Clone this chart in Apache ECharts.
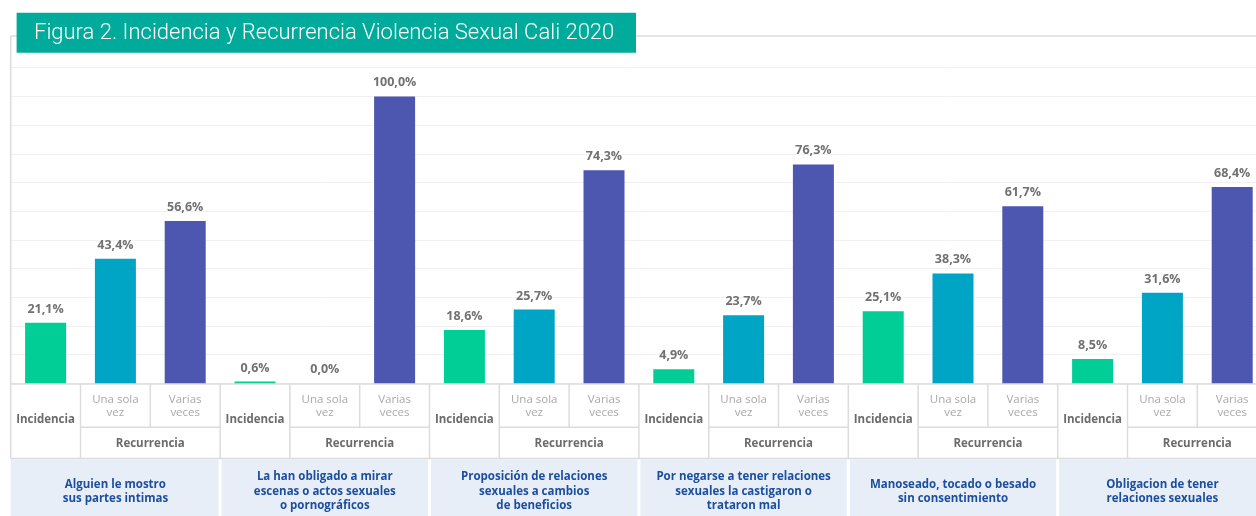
<!DOCTYPE html>
<html>
<head>
<meta charset="utf-8">
<script src="https://cdn.jsdelivr.net/npm/echarts@6/dist/echarts.min.js"></script>
<style>
  html, body { margin: 0; padding: 0; background: #fff; }
  #chart { width: 1256px; height: 516px; }
</style>
</head>
<body>
<div id="chart"></div>
<script>
  const titulo = 'Figura 2. Incidencia y Recurrencia Violencia Sexual Cali 2020';
  const columnas = ['Incidencia', 'Una sola\nvez', 'Varias\nveces'];
  const grupos = [
    'Alguien le mostro\nsus partes intimas',
    'La han obligado a mirar\nescenas o actos sexuales\no pornográficos',
    'Proposición de relaciones\nsexuales a cambios\nde beneficios',
    'Por negarse a tener relaciones\nsexuales la castigaron o\ntrataron mal',
    'Manoseado, tocado o besado\nsin consentimiento',
    'Obligacion de tener\nrelaciones sexuales'
  ];
  const incidencia = [21.1, 0.6, 18.6, 4.9, 25.1, 8.5];
  const unaSolaVez = [43.4, 0.0, 25.7, 23.7, 38.3, 31.6];
  const variasVeces = [56.6, 100.0, 74.3, 76.3, 61.7, 68.4];
  const colores = ['#00ce96', '#00a4c5', '#4e57b0'];

  const FONT = '"Open Sans", sans-serif';
  const LINE = '#dcdcdc';

  // 18 columnas: 3 por grupo
  const categorias = [];
  const valores = [];
  grupos.forEach((g, i) => {
    [incidencia[i], unaSolaVez[i], variasVeces[i]].forEach((v, k) => {
      categorias.push(columnas[k] + ' ' + (i + 1));
      valores.push({ value: v, itemStyle: { color: colores[k] } });
    });
  });

  const chart = echarts.init(document.getElementById('chart'));

  chart.setOption({
    animation: false,
    grid: { left: 10.7, width: 1256.4, top: 67.7, height: 315.6, outerBoundsMode: 'none', containLabel: false },
    xAxis: {
      type: 'category',
      data: categorias,
      axisTick: { show: false },
      axisLabel: { show: false },
      axisLine: { lineStyle: { color: LINE, width: 1.5 } }
    },
    yAxis: {
      type: 'value',
      min: 0, max: 110, interval: 10,
      axisLabel: { show: false },
      axisLine: { show: false },
      axisTick: { show: false },
      splitLine: { lineStyle: { color: '#f1f1f1', width: 1 } }
    },
    series: [{
      type: 'bar',
      data: valores,
      barWidth: 41,
      label: {
        show: true,
        position: 'top',
        distance: 7,
        color: '#717171',
        fontFamily: FONT,
        fontWeight: 'bold',
        fontSize: 12.5,
        formatter: (p) => p.value.toFixed(1).replace('.', ',') + '%'
      }
    }]
  });

  function tabla() {
    const cx = (i) => chart.convertToPixel({ xAxisIndex: 0 }, i);
    const w = cx(1) - cx(0);
    const y0 = chart.convertToPixel({ yAxisIndex: 0 }, 0);
    const yMid = 427.3, yBot = 458.5, yTop = 36;
    const els = [];
    const line = (x1, y1, x2, y2) => els.push({
      type: 'line', silent: true, z: 5,
      shape: { x1, y1, x2, y2 },
      style: { stroke: LINE, lineWidth: 1.5 }
    });
    const text = (x, y, t, color, weight, size, lh) => els.push({
      type: 'text', silent: true, z: 6, x, y,
      style: {
        text: t, fill: color, font: `${weight} ${size}px ${FONT}`,
        align: 'center', verticalAlign: 'middle', lineHeight: lh
      }
    });

    const L0 = cx(0) - w / 2;
    line(L0, yTop, 1256, yTop);
    line(L0, yTop, L0, yBot);
    line(L0, yBot, 1256, yBot);

    grupos.forEach((g, i) => {
      const L = cx(3 * i) - w / 2, A = L + w, B = A + w, R = B + w;
      if (i > 0) line(L, y0, L, yBot);
      line(A, y0, A, yBot);
      line(B, y0, B, yMid);
      line(A, yMid, R, yMid);
      text((L + A) / 2, 420, 'Incidencia', '#6b6b6b', 'bold', 11.5, 14);
      text((A + B) / 2, 406, columnas[1], '#a9a9a9', 'normal', 11.5, 12.5);
      text((B + R) / 2, 406, columnas[2], '#a9a9a9', 'normal', 11.5, 12.5);
      text((A + R) / 2, 443.5, 'Recurrencia', '#6b6b6b', 'bold', 11.5, 14);
      els.push({
        type: 'rect', silent: true, z: 4,
        shape: { x: L + (i > 0 ? 1.5 : 0), y: yBot + 1, width: w * 3 - (i > 0 ? 3 : 1.5), height: 70 },
        style: { fill: '#e7eef8' }
      });
      text((L + R) / 2, 491.7, g, '#1c4e9e', 'bold', 11.5, 14.5);
    });

    // cabecera
    els.push({
      type: 'rect', silent: true, z: 10,
      shape: { x: 16.6, y: 12.7, width: 619.4, height: 40 },
      style: { fill: '#00ab9b' }
    });
    els.push({
      type: 'text', silent: true, z: 11, x: 34, y: 33,
      style: {
        text: titulo, fill: '#ffffff', font: `300 22px Roboto, sans-serif`,
        align: 'left', verticalAlign: 'middle'
      }
    });
    chart.setOption({ graphic: { elements: els } });
  }
  tabla();
</script>
</body>
</html>
